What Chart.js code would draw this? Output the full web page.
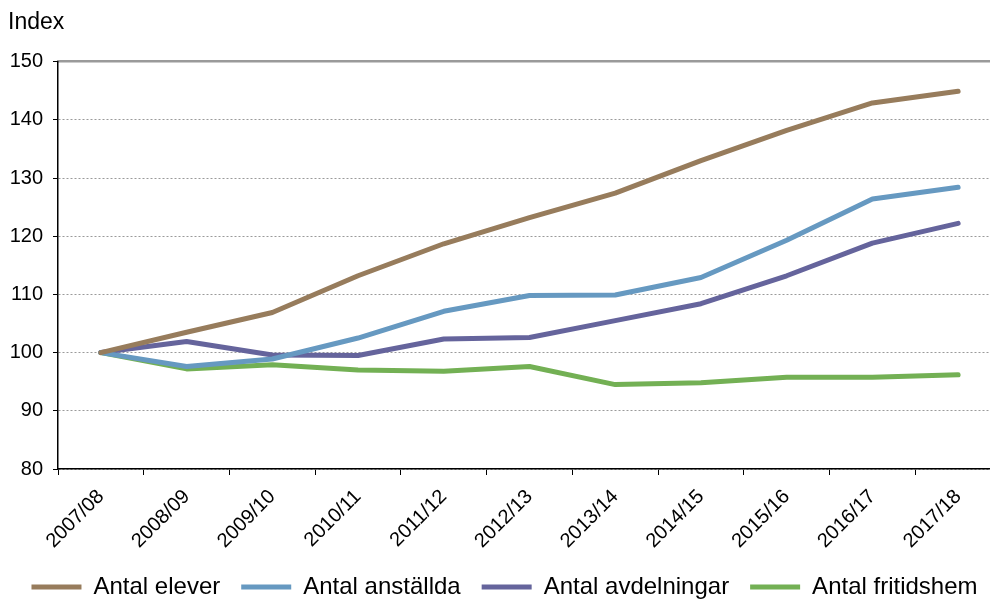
<!DOCTYPE html>
<html>
<head>
<meta charset="utf-8">
<script src="https://cdn.jsdelivr.net/npm/chart.js@4/dist/chart.umd.min.js"></script>
<style>
  html, body { margin: 0; padding: 0; background: #fff; overflow: hidden; width: 990px; height: 599px; }
  #wrap { width: 1024px; height: 599px; }
</style>
</head>
<body>
<div id="wrap"><canvas id="c" width="1024" height="599"></canvas></div>
<script>
const categories = ["2007/08","2008/09","2009/10","2010/11","2011/12","2012/13","2013/14","2014/15","2015/16","2016/17","2017/18"];
const elever       = [100, 103.5, 106.9, 113.2, 118.7, 123.2, 127.4, 133.0, 138.2, 142.9, 144.9];
const anstallda    = [100, 97.6, 98.9, 102.5, 107.1, 109.8, 109.9, 112.9, 119.3, 126.4, 128.4];
const avdelningar  = [100, 101.9, 99.6, 99.5, 102.35, 102.6, 105.5, 108.4, 113.2, 118.8, 122.2];
const fritidshem   = [100, 97.2, 97.9, 97.0, 96.8, 97.6, 94.5, 94.8, 95.75, 95.75, 96.2];
const seriesNames  = ["Antal elever", "Antal anställda", "Antal avdelningar", "Antal fritidshem"];
const yTicks = { min: 80, max: 150, step: 10 };
const yTitle = "Index";

const colors = ["#977C5C", "#6699C1", "#65649C", "#73B054"];
const FONT = "'Liberation Sans', Arial, Helvetica, sans-serif";
Chart.defaults.color = '#000';
Chart.defaults.font.family = FONT;

const mk = (label, data, color) => ({
  label, data,
  borderColor: color, backgroundColor: color,
  borderWidth: 5, pointRadius: 0, pointHoverRadius: 0,
  tension: 0, borderCapStyle: 'round', borderJoinStyle: 'round',
  fill: false
});

new Chart(document.getElementById('c'), {
  type: 'line',
  data: {
    labels: categories,
    datasets: [
      mk(seriesNames[0], elever, colors[0]),
      mk(seriesNames[1], anstallda, colors[1]),
      mk(seriesNames[2], avdelningar, colors[2]),
      mk(seriesNames[3], fritidshem, colors[3])
    ]
  },
  options: {
    responsive: false,
    animation: false,
    devicePixelRatio: 1,
    layout: { padding: { left: 8, right: 23, top: 0, bottom: -10 } },
    plugins: {
      tooltip: { enabled: false },
      title: {
        display: true, text: yTitle, align: 'start', color: '#000',
        font: { size: 23, weight: 'normal', family: FONT },
        padding: { top: 9, bottom: 25 }
      },
      legend: {
        position: 'bottom',
        labels: {
          usePointStyle: true, pointStyle: 'line', pointStyleWidth: 50,
          font: { size: 24, family: FONT }, color: '#000', padding: 21
        }
      }
    },
    scales: {
      x: {
        type: 'category',
        offset: true,
        grid: { display: true, drawOnChartArea: false, drawTicks: true, tickLength: 6, tickColor: '#000', offset: true },
        border: { display: true, color: '#000', width: 1.5 },
        ticks: { minRotation: 45, maxRotation: 45, padding: 10, font: { size: 20, family: FONT }, color: '#000', autoSkip: false },
        afterFit: (s) => { s.height = 85; }
      },
      xTop: {
        type: 'category',
        position: 'top',
        offset: true,
        labels: categories,
        grid: { display: false, drawTicks: false },
        border: { display: true, color: '#9a9a9a', width: 2.5 },
        ticks: { display: false }
      },
      y: {
        min: yTicks.min, max: yTicks.max,
        ticks: { stepSize: yTicks.step, padding: 10, font: { size: 20, family: FONT }, color: '#000' },
        grid: { color: (ctx) => ctx.tick && ctx.tick.value === yTicks.max ? 'rgba(0,0,0,0)' : '#9a9a9a', lineWidth: 1, tickLength: 5, tickColor: '#000', tickBorderDash: [] },
        border: { display: true, color: '#000', width: 1.5, dash: [2, 2] },
        afterFit: (s) => { s.width = 50; }
      }
    }
  }
});
</script>
</body>
</html>
